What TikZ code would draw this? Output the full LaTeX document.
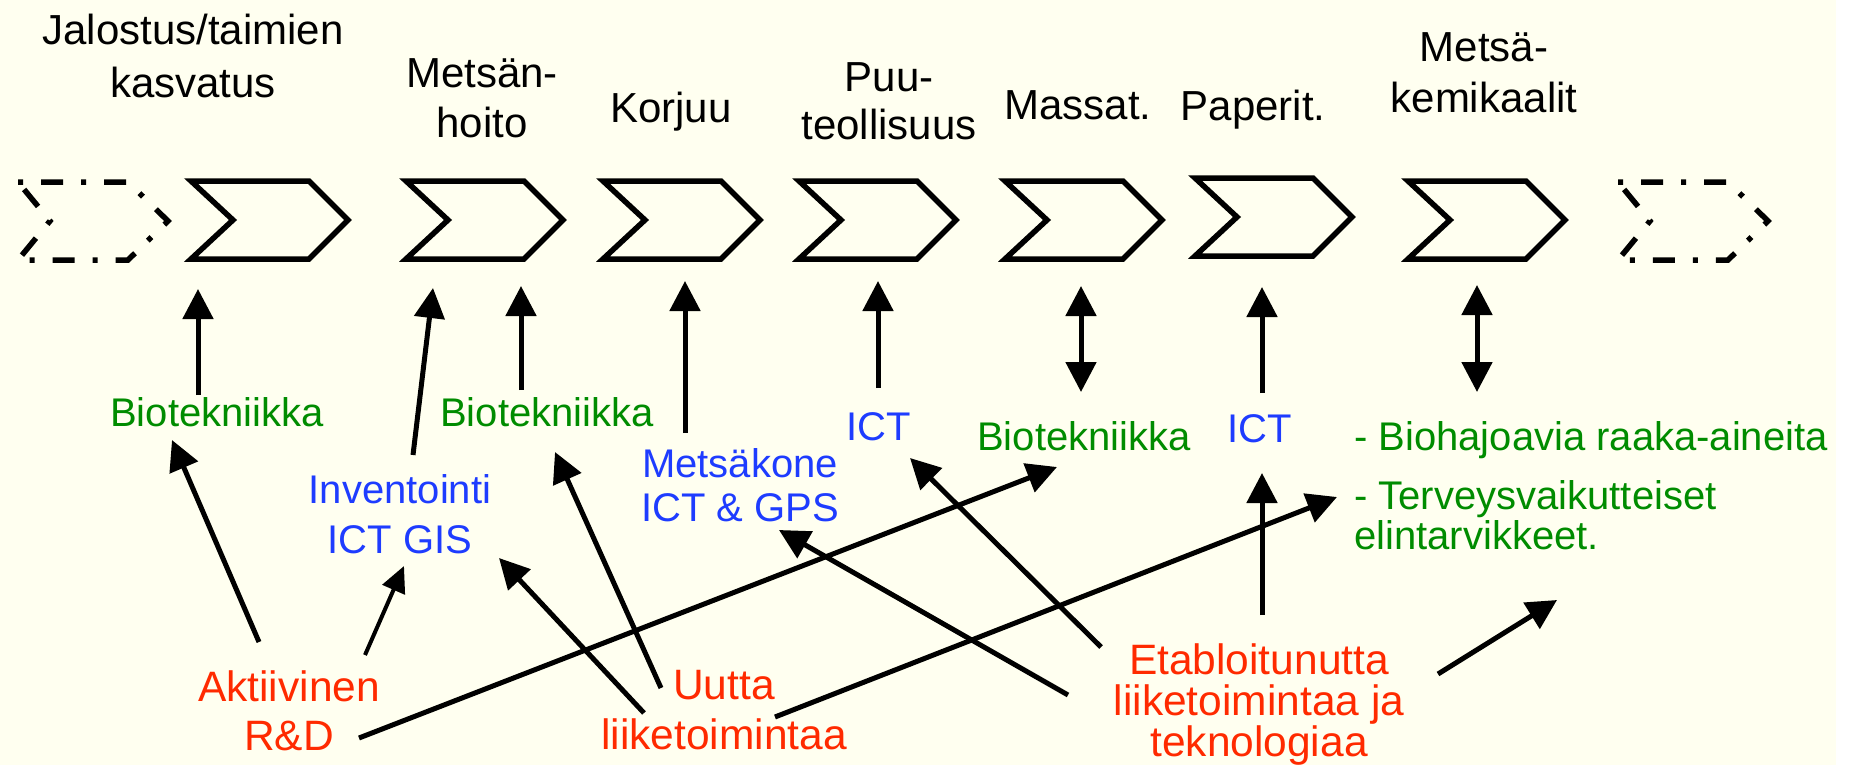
\documentclass[tikz,border=0pt]{standalone}
\usepackage{fontspec}
\setmainfont{Liberation Sans}
\usetikzlibrary{arrows.meta}
\definecolor{bgivory}{HTML}{FFFFF0}
\definecolor{tgreen}{HTML}{008C00}
\definecolor{tblue}{HTML}{1E3CFF}
\definecolor{tred}{HTML}{FF2A00}
\tikzset{
  chevline/.style={line width=5.5pt, line join=miter},
  dchevline/.style={line width=5.5pt, line join=miter, dash pattern=on 5pt off 18pt on 22pt off 18pt},
  chev/.pic={\draw[chevline] (0,-39) -- (118,-39) -- (157,0) -- (118,39) -- (0,39) -- (42,0) -- cycle;},
  dchev/.pic={\draw[dchevline] (0,-39) -- (110,-39) -- (150,0) -- (110,39) -- (0,39) -- (32,0) -- cycle;},
  hdr/.style={font=\fontsize{42}{48}\selectfont, align=center, inner sep=0pt, anchor=north},
  grn/.style={text=tgreen, font=\fontsize{40}{40}\selectfont, inner sep=0pt, anchor=north},
  blu/.style={text=tblue, font=\fontsize{40}{50}\selectfont, align=center, inner sep=0pt, anchor=north},
  rd/.style={text=tred, font=\fontsize{42.5}{49}\selectfont, align=center, inner sep=0pt, anchor=north},
  arr/.style={line width=5pt, -{Triangle[length=30pt,width=30pt]}},
  thinarr/.style={line width=4pt, -{Triangle[length=26pt,width=24pt]}},
  darr/.style={line width=5pt, {Triangle[length=30pt,width=30pt]}-{Triangle[length=30pt,width=30pt]}},
}
\begin{document}
\begin{tikzpicture}[x=1pt,y=-1pt]
\useasboundingbox (0,0) rectangle (1858,765);
\fill[white] (0,0) rectangle (1858,765);
\fill[bgivory] (0,0) rectangle (1836,765);

% chevron reference points
\coordinate (cl) at (18,221);
\coordinate (c1) at (191,220);
\coordinate (c2) at (406,220);
\coordinate (c3) at (603,220);
\coordinate (c4) at (799,220);
\coordinate (c5) at (1005,220);
\coordinate (c6) at (1195,217);
\coordinate (c7) at (1408,220);
\coordinate (cr) at (1618,221);
\path (cl) pic {dchev};
\path (c1) pic {chev};
\path (c2) pic {chev};
\path (c3) pic {chev};
\path (c4) pic {chev};
\path (c5) pic {chev};
\path (c6) pic {chev};
\path (c7) pic {chev};
\path (cr) pic {dchev};

% headers
\node[hdr, font=\fontsize{42}{53}\selectfont] (h1) at (193,14) {Jalostus/taimien\\kasvatus};
\node[hdr, font=\fontsize{42}{50}\selectfont] (h2) at (482,58) {Metsän-\\hoito};
\node[hdr] (h3) at (671,92) {Korjuu};
\node[hdr] (h4) at (889,62) {Puu-\\teollisuus};
\node[hdr] (h5) at (1078,90) {Massat.};
\node[hdr] (h6) at (1253,90) {Paperit.};
\node[hdr, font=\fontsize{42}{51}\selectfont] (h7) at (1484,32) {Metsä-\\kemikaalit};

% middle labels
\node[grn] (bio1) at (217,397) {Biotekniikka};
\node[grn] (bio2) at (547,397) {Biotekniikka};
\node[blu] (inv) at (400,474) {Inventointi\\ICT GIS};
\node[blu, font=\fontsize{40}{44}\selectfont] (mk) at (740,448) {Metsäkone\\ICT \& GPS};
\node[blu] (ict1) at (879,412) {ICT};
\node[grn] (bio3) at (1084,421) {Biotekniikka};
\node[blu] (ict2) at (1260,414) {ICT};
\node[grn, anchor=north west] (biohaj) at (1354,421) {- Biohajoavia raaka-aineita};
\node[grn, anchor=north west, align=left] (terv) at (1354,480) {- Terveysvaikutteiset\\elintarvikkeet.};

% bottom labels
\node[rd] (akt) at (289,670) {Aktiivinen\\R\&D};
\node[rd, font=\fontsize{42.5}{50}\selectfont] (uut) at (724,670) {Uutta\\liiketoimintaa};
\node[rd, font=\fontsize{42.5}{41}\selectfont] (etab) at (1259,643) {Etabloitunutta\\liiketoimintaa ja\\teknologiaa};

\coordinate (free) at (1557,600);

% arrows to chevrons
\draw[arr] ([shift={(-19,-2)}]bio1.north) -- ([shift={(7,69)}]c1);
\draw[arr] ([shift={(13,-19)}]inv.north) -- ([shift={(27,68)}]c2);
\draw[arr] ([shift={(-26,-7)}]bio2.north) -- ([shift={(115,66)}]c2);
\draw[arr] ([shift={(-55,-15)}]mk.north) -- ([shift={(82,61)}]c3);
\draw[arr] ([shift={(-1,-24)}]ict1.north) -- ([shift={(79,61)}]c4);
\draw[darr] ([shift={(-3,-29)}]bio3.north) -- ([shift={(76,66)}]c5);
\draw[arr] ([shift={(2,-21)}]ict2.north) -- ([shift={(67,70)}]c6);
\draw[darr] ([shift={(123,-29)}]biohaj.north west) -- ([shift={(69,65)}]c7);

% arrows from bottom labels
\draw[arr] ([shift={(-30,-28)}]akt.north) -- ([shift={(-45,43)}]bio1.north);
\draw[thinarr] ([shift={(76,-15)}]akt.north) -- ([shift={(4,92)}]inv.north);
\draw[arr] ([shift={(70,68)}]akt.north) -- ([shift={(-27,46)}]bio3.north);
\draw[arr] ([shift={(-80,43)}]uut.north) -- ([shift={(99,84)}]inv.north);
\draw[arr] ([shift={(-63,18)}]uut.north) -- ([shift={(8,55)}]bio2.north);
\draw[arr] ([shift={(51,47)}]uut.north) -- ([shift={(-17,17)}]terv.north west);
\draw[arr] ([shift={(-158,4)}]etab.north) -- ([shift={(31,46)}]ict1.north);
\draw[arr] ([shift={(-191,52)}]etab.north) -- ([shift={(39,82)}]mk.north);
\draw[arr] ([shift={(3,-28)}]etab.north) -- ([shift={(2,59)}]ict2.north);
\draw[arr] ([shift={(179,31)}]etab.north) -- (free);
\end{tikzpicture}
\end{document}
